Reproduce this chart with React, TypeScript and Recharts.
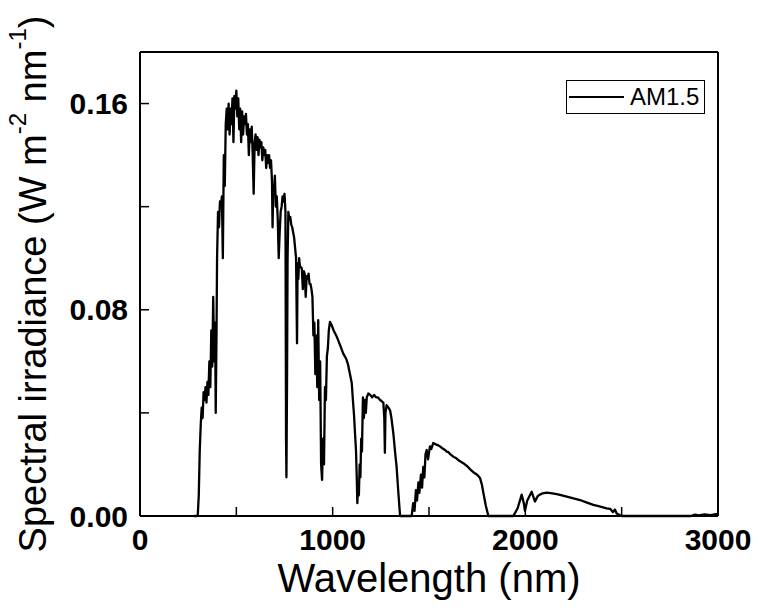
import React from 'react';
import { LineChart, Line, XAxis, YAxis, Legend } from 'recharts';

// AM1.5 spectrum
const wavelength = [
  280, 295, 300, 305, 310, 315, 320, 325, 330, 335, 340, 345, 350, 355, 360, 365, 370, 375, 380, 385,
  390, 393, 397, 400, 405, 410, 415, 420, 425, 430, 435, 440, 445, 450, 455, 460, 465, 470, 475, 480,
  485, 490, 495, 500, 505, 510, 515, 520, 525, 530, 535, 540, 545, 550, 555, 560, 565, 570, 575, 580,
  585, 590, 595, 600, 605, 610, 615, 620, 625, 630, 635, 640, 645, 650, 655, 660, 665, 670, 675, 680,
  685, 688, 692, 695, 700, 705, 710, 715, 720, 725, 730, 735, 740, 745, 750, 755, 758, 760, 763, 766,
  770, 775, 780, 785, 790, 795, 800, 805, 810, 815, 818, 822, 826, 830, 840, 845, 850, 855, 860, 865,
  870, 875, 880, 885, 890, 895, 900, 905, 910, 915, 920, 925, 930, 935, 940, 945, 950, 955, 960, 965,
  970, 975, 980, 986, 995, 1005, 1021, 1040, 1055, 1070, 1080, 1090, 1099, 1105, 1111, 1116, 1121, 1125, 1128, 1132,
  1136, 1140, 1144, 1148, 1152, 1157, 1162, 1167, 1172, 1177, 1185, 1195, 1205, 1215, 1225, 1235, 1246, 1255, 1263, 1268,
  1271, 1274, 1280, 1290, 1298, 1305, 1315, 1325, 1332, 1340, 1350, 1410, 1418, 1425, 1432, 1438, 1445, 1450, 1458, 1464,
  1470, 1476, 1482, 1488, 1495, 1505, 1512, 1522, 1535, 1545, 1557, 1565, 1575, 1585, 1592, 1600, 1610, 1626, 1640, 1655,
  1678, 1700, 1715, 1730, 1750, 1765, 1775, 1782, 1795, 1808, 1938, 1960, 1981, 1992, 1998, 2010, 2033, 2050, 2065, 2076,
  2090, 2111, 2140, 2163, 2190, 2215, 2250, 2284, 2320, 2353, 2390, 2422, 2440, 2455, 2465, 2474, 2500, 2860, 2880, 2900,
  2930, 2960, 2990, 3000,
];

const irradiance = [
  0, 0, 0.0005, 0.008, 0.025, 0.035, 0.042, 0.038, 0.048, 0.045, 0.05, 0.044, 0.052, 0.047, 0.06, 0.05, 0.072, 0.058, 0.085, 0.06,
  0.075, 0.04, 0.07, 0.1, 0.118, 0.112, 0.122, 0.12, 0.124, 0.1, 0.14, 0.128, 0.152, 0.158, 0.15, 0.16, 0.148, 0.158, 0.152, 0.162,
  0.145, 0.163, 0.158, 0.165, 0.155, 0.162, 0.15, 0.158, 0.145, 0.157, 0.148, 0.155, 0.152, 0.156, 0.148, 0.152, 0.14, 0.15, 0.145, 0.151,
  0.14, 0.125, 0.145, 0.148, 0.142, 0.147, 0.14, 0.146, 0.143, 0.145, 0.138, 0.143, 0.14, 0.142, 0.135, 0.14, 0.137, 0.14, 0.135, 0.138,
  0.13, 0.112, 0.128, 0.125, 0.132, 0.12, 0.124, 0.115, 0.1, 0.11, 0.118, 0.12, 0.124, 0.122, 0.125, 0.118, 0.03, 0.015, 0.05, 0.1,
  0.118, 0.115, 0.116, 0.113, 0.112, 0.11, 0.108, 0.104, 0.1, 0.067, 0.098, 0.092, 0.1, 0.097, 0.096, 0.088, 0.095, 0.094, 0.085, 0.093,
  0.092, 0.094, 0.09, 0.09, 0.088, 0.085, 0.07, 0.075, 0.055, 0.07, 0.05, 0.076, 0.045, 0.06, 0.02, 0.014, 0.03, 0.02, 0.05, 0.045,
  0.062, 0.065, 0.072, 0.0753, 0.074, 0.072, 0.0696, 0.066, 0.063, 0.061, 0.0587, 0.055, 0.0516, 0.045, 0.039, 0.032, 0.0256, 0.015, 0.005, 0.012,
  0.008, 0.02, 0.015, 0.03, 0.025, 0.046, 0.038, 0.045, 0.04, 0.046, 0.0475, 0.047, 0.046, 0.047, 0.046, 0.046, 0.045, 0.0445, 0.044, 0.038,
  0.0245, 0.04, 0.043, 0.042, 0.041, 0.038, 0.032, 0.024, 0.019, 0.01, 0, 0, 0.005, 0.002, 0.01, 0.006, 0.013, 0.009, 0.016, 0.011,
  0.019, 0.015, 0.024, 0.0256, 0.022, 0.027, 0.026, 0.0283, 0.0278, 0.0275, 0.027, 0.0265, 0.026, 0.0255, 0.025, 0.0248, 0.024, 0.023, 0.0225, 0.0215,
  0.0205, 0.0192, 0.018, 0.017, 0.016, 0.0147, 0.012, 0.009, 0.004, 0, 0, 0.003, 0.0083, 0.005, 0.002, 0.006, 0.0094, 0.0056, 0.0078, 0.0083,
  0.0088, 0.0091, 0.0088, 0.0085, 0.008, 0.0075, 0.0068, 0.0062, 0.0052, 0.0043, 0.0036, 0.003, 0.0028, 0.0015, 0.0025, 0.001, 0, 0, 0.0005, 0.0002,
  0.0006, 0.0003, 0.0007, 0.0008,
];

const xTicks = [0, 500, 1000, 1500, 2000, 2500, 3000];
const yTicks = [0, 0.04, 0.08, 0.12, 0.16];
const seriesName = 'AM1.5';

const data = wavelength.map((w, i) => ({ w, v: irradiance[i] }));

const font = '"Liberation Sans", Arial, sans-serif';
const tickFont = { fontFamily: font, fontSize: 30, fontWeight: 700, fill: '#000' };

const YTitle = ({ viewBox }: any) => {
  const cx = 33;
  const cy = viewBox.y + viewBox.height / 2;
  return (
    <text
      x={cx}
      y={cy}
      transform={`rotate(-90 ${cx} ${cy})`}
      textAnchor="middle"
      dominantBaseline="central"
      fontFamily={font}
      fontSize={38}
      fill="#000"
    >
      Spectral irradiance (W m
      <tspan fontSize={24} dy={-16}>-2</tspan>
      <tspan dy={16}> nm</tspan>
      <tspan fontSize={24} dy={-16}>-1</tspan>
      <tspan dy={16}>)</tspan>
    </text>
  );
};

const XTitle = ({ viewBox }: any) => (
  <text
    x={viewBox.x + viewBox.width / 2}
    y={592}
    textAnchor="middle"
    fontFamily={font}
    fontSize={40}
    fill="#000"
  >
    Wavelength (nm)
  </text>
);

const LegendBox = () => (
  <div
    style={{
      border: '1px solid #000',
      background: '#fff',
      display: 'flex',
      alignItems: 'center',
      padding: '2px 5px 2px 2px',
      height: 28,
      fontFamily: font,
      fontSize: 24,
    }}
  >
    <span style={{ display: 'inline-block', width: 55, borderTop: '2px solid #000', marginRight: 6 }} />
    {seriesName}
  </div>
);

export default function App() {
  return (
    <div style={{ position: 'absolute', left: 0, top: 0, background: '#fff' }}>
      <LineChart width={760} height={610} data={data} margin={{ top: 22, right: 12, bottom: 0, left: 0 }}>
        <XAxis
          xAxisId="b"
          dataKey="w"
          type="number"
          domain={[0, 3000]}
          ticks={xTicks}
          height={94}
          tickSize={-9}
          tickMargin={22}
          tick={tickFont}
          tickFormatter={(t: number) => (t % 1000 === 0 ? String(t) : '')}
          axisLine={{ stroke: '#000', strokeWidth: 2 }}
          tickLine={{ stroke: '#000', strokeWidth: 1.5 }}
          label={<XTitle />}
        />
        <XAxis
          xAxisId="t"
          orientation="top"
          dataKey="w"
          type="number"
          domain={[0, 3000]}
          ticks={xTicks}
          height={30}
          tickSize={-9}
          tick={false}
          axisLine={{ stroke: '#000', strokeWidth: 2 }}
          tickLine={{ stroke: '#000', strokeWidth: 1.5 }}
        />
        <YAxis
          yAxisId="l"
          type="number"
          domain={[0, 0.18]}
          ticks={yTicks}
          width={140}
          tickSize={-9}
          tickMargin={21}
          tick={tickFont}
          tickFormatter={(t: number) => (Math.round(t * 100) % 8 === 0 ? t.toFixed(2) : '')}
          axisLine={{ stroke: '#000', strokeWidth: 2 }}
          tickLine={{ stroke: '#000', strokeWidth: 1.5 }}
          label={<YTitle />}
        />
        <YAxis
          yAxisId="r"
          orientation="right"
          type="number"
          domain={[0, 0.18]}
          ticks={yTicks}
          width={30}
          tickSize={-9}
          tick={false}
          axisLine={{ stroke: '#000', strokeWidth: 2 }}
          tickLine={{ stroke: '#000', strokeWidth: 1.5 }}
        />
        <Legend
          layout="vertical"
          align="center"
          verticalAlign="middle"
          wrapperStyle={{ top: 80, left: 566, width: 'auto' }}
          content={<LegendBox />}
        />
        <Line
          xAxisId="b"
          yAxisId="l"
          dataKey="v"
          name={seriesName}
          type="linear"
          stroke="#000"
          strokeWidth={2.3}
          strokeLinejoin="round"
          dot={false}
          isAnimationActive={false}
        />
      </LineChart>
    </div>
  );
}
